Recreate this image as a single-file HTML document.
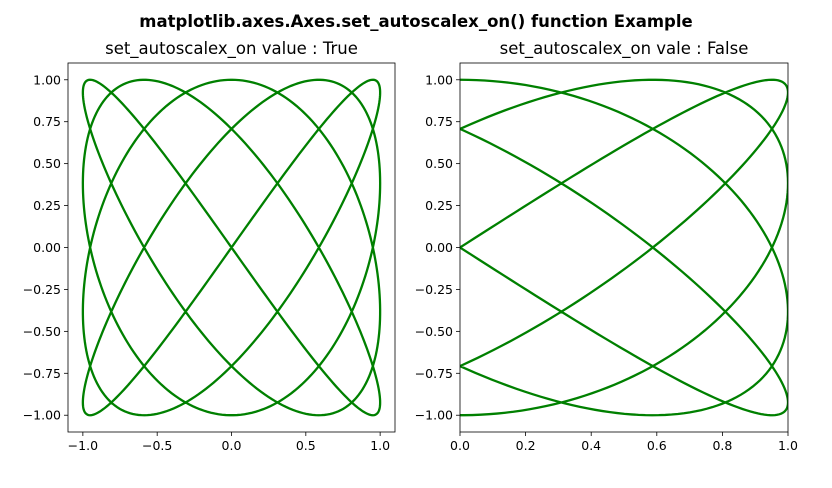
<!DOCTYPE html>
<html><head><meta charset="utf-8"><style>
body{margin:0;background:#fff;}
svg text{font-family:"DejaVu Sans","Liberation Sans",sans-serif;fill:#000;}
</style></head><body>
<svg id="c" width="832" height="483" xmlns="http://www.w3.org/2000/svg">
<rect width="832" height="483" fill="#fff"/>
<text x="416" y="27" text-anchor="middle" font-size="16.5" font-weight="bold">matplotlib.axes.Axes.set_autoscalex_on() function Example</text>
</svg>
<script>
// Lissajous parameters: x = sin(freqX * t), y = cos(freqY * t)
const freqX = 4;
const freqY = 5;
const sampleCount = 1000;
const leftXTicks = [-1.0, -0.5, 0.0, 0.5, 1.0];
const leftXTickLabels = ["\u22121.0", "\u22120.5", "0.0", "0.5", "1.0"];
const rightXTicks = [0.0, 0.2, 0.4, 0.6, 0.8, 1.0];
const rightXTickLabels = ["0.0", "0.2", "0.4", "0.6", "0.8", "1.0"];
const yTicks = [1.0, 0.75, 0.5, 0.25, 0.0, -0.25, -0.5, -0.75, -1.0];
const yTickLabels = ["1.00", "0.75", "0.50", "0.25", "0.00", "\u22120.25", "\u22120.50", "\u22120.75", "\u22121.00"];
const titles = ["set_autoscalex_on value : True", "set_autoscalex_on vale : False"];

const svg = document.getElementById('c');
const NS = 'http://www.w3.org/2000/svg';
function mk(tag, attrs){const e=document.createElementNS(NS,tag);for(const k in attrs)e.setAttribute(k,attrs[k]);svg.appendChild(e);return e;}

const xs=[], ys=[];
for(let i=0;i<sampleCount;i++){const t=2*Math.PI*i/(sampleCount-1);xs.push(Math.sin(freqX*t));ys.push(Math.cos(freqY*t));}

const panels=[
 {x0:68,x1:395,xmin:-1.1,xmax:1.1,ticks:leftXTicks,labels:leftXTickLabels,name:'left'},
 {x0:460,x1:788,xmin:0,xmax:1,ticks:rightXTicks,labels:rightXTickLabels,name:'right'}
];
const y0=63,y1=432,ymin=-1.1,ymax=1.1;
panels.forEach((p,pi)=>{
 const sx=v=>p.x0+(v-p.xmin)/(p.xmax-p.xmin)*(p.x1-p.x0);
 const sy=v=>y1-(v-ymin)/(ymax-ymin)*(y1-y0);
 const cid='clip'+pi;
 const cp=mk('clipPath',{id:cid});
 const r=document.createElementNS(NS,'rect');r.setAttribute('x',p.x0);r.setAttribute('y',y0);r.setAttribute('width',p.x1-p.x0);r.setAttribute('height',y1-y0);cp.appendChild(r);
 let d='';xs.forEach((x,i)=>{d+=(i?'L':'M')+sx(x).toFixed(2)+','+sy(ys[i]).toFixed(2);});
 const path=mk('path',{d:d,fill:'none',stroke:'#008000','stroke-width':2.3,'clip-path':'url(#'+cid+')'});
 
 
 const frame=mk('rect',{x:p.x0,y:y0,width:p.x1-p.x0,height:y1-y0,fill:'none',stroke:'#000','stroke-width':0.8});
 
 
 const tt=mk('text',{x:(p.x0+p.x1)/2,y:54,'text-anchor':'middle','font-size':16.5});
 tt.textContent=titles[pi];
 
 
 p.ticks.forEach((v,i)=>{
  const X=sx(v);
  mk('line',{x1:X,x2:X,y1:y1,y2:y1+4,stroke:'#000','stroke-width':0.8});
  const t=mk('text',{x:X,y:y1+18,'text-anchor':'middle','font-size':12.5});
  t.textContent=p.labels[i];
  
  
 });
 yTicks.forEach((v,i)=>{
  const Y=sy(v);
  mk('line',{x1:p.x0-4,x2:p.x0,y1:Y,y2:Y,stroke:'#000','stroke-width':0.8});
  const t=mk('text',{x:p.x0-7,y:Y+4.5,'text-anchor':'end','font-size':12.5});
  t.textContent=yTickLabels[i];
  
  
 });
});
</script>
</body></html>
